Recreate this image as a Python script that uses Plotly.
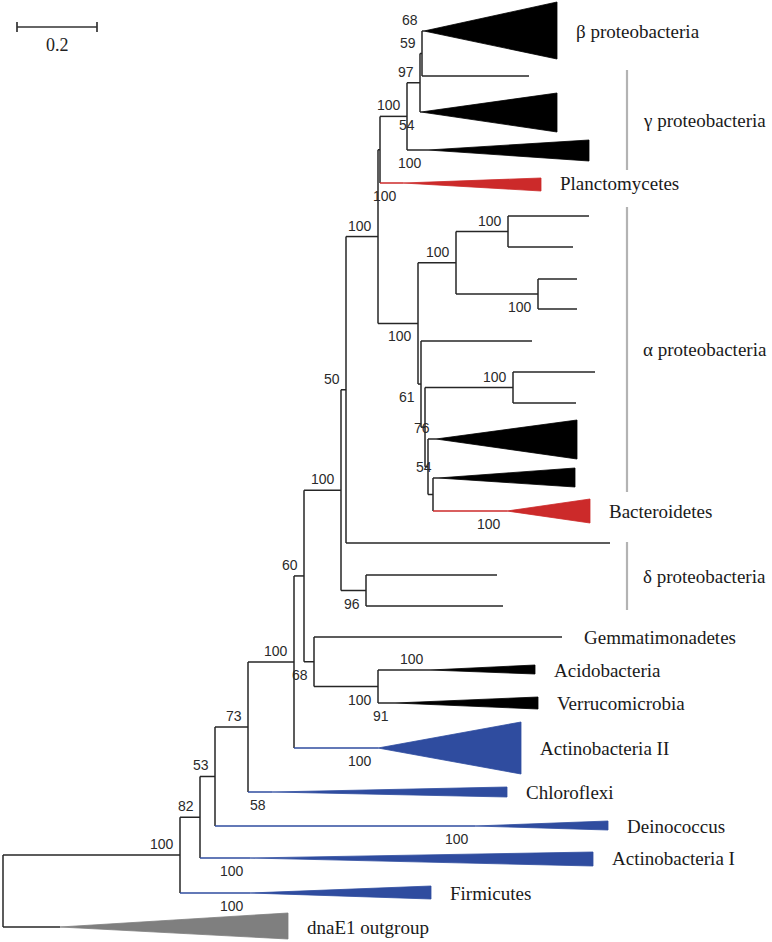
import plotly.graph_objects as go

# ---------------- data ----------------
# internal nodes: depth from root in substitutions/site
int_name = ["root", "n180", "n200", "n215", "n248", "n294", "n304", "n341", "n314", "n378",
            "n346", "n366", "n1", "n2", "a1", "g1", "n419", "b1", "n456", "a2",
            "n508", "n538", "a3", "n513", "a4", "a5"]
int_parent = [None, "root", "n180", "n200", "n215", "n248", "n294", "n304", "n304", "n314",
              "n341", "n341", "n346", "n1", "n1", "n2", "g1", "n419", "a1", "a1",
              "n456", "n456", "a2", "a3", "a3", "a4"]
int_depth = [0.0, 0.4425, 0.4925, 0.53, 0.6125, 0.7275, 0.7525, 0.845, 0.7775, 0.9375,
             0.8575, 0.9075, 0.9375, 0.9425, 1.0375, 1.01, 1.0425, 1.0475, 1.1325, 1.045,
             1.2625, 1.3375, 1.055, 1.275, 1.0625, 1.075]
int_support = [None, 100, 82, 53, 73, 100, 60, 100, 68, 100,
               50, 96, 100, None, 100, 100, 97, 59, 100, 61,
               100, 100, None, 100, None, None]
int_side = ["", "a", "a", "a", "a", "a", "a", "a", "b", "b",
            "a", "b", "a", "", "b", "a", "a", "a", "a", "b",
            "a", "b", "", "a", "", ""]

# single terminal taxa
leaf_name = ["gemma", "delta1", "delta2", "longleaf", "gammaleaf", "al1", "al2", "al3",
             "al4", "al5", "al6", "al7"]
leaf_parent = ["n314", "n366", "n366", "n346", "b1", "n508", "n508", "n538",
               "n538", "a2", "n513", "n513"]
leaf_depth = [1.3975, 1.235, 1.25, 1.5175, 1.315, 1.465, 1.425, 1.435,
              1.435, 1.3225, 1.48, 1.4325]
leaf_row = [637, 575, 606, 543, 76, 216, 247, 279, 309, 341, 372, 403]
leaf_label = ["Gemmatimonadetes", "", "", "", "", "", "", "", "", "", "", ""]

# collapsed clades (triangles)
clade_name = ["outgroup", "firmicutes", "actino1", "deino", "chloro", "actino2", "acido",
              "verruco", "plancto", "gamma2", "gamma1", "beta", "alpha1", "alpha2", "bactero"]
clade_parent = ["root", "n180", "n200", "n215", "n248", "n294", "n378",
                "n378", "n2", "g1", "n419", "b1", "a4", "a5", "a5"]
clade_apex = [0.1425, 0.6175, 0.6175, 1.18, 0.6725, 0.9375, 1.0675,
              0.98, 1.0, 1.0625, 1.045, 1.0525, 1.0825, 1.0875, 1.26]
clade_tip = [0.7125, 1.07, 1.475, 1.5125, 1.26, 1.295, 1.33,
             1.3375, 1.345, 1.465, 1.385, 1.385, 1.435, 1.43, 1.4675]
clade_row = [927, 893, 858, 826, 792, 748, 670, 703, 183, 150, 112, 31, 439, 478, 511]
clade_up = [14, 7, 6, 5, 5, 26, 5, 6, 5, 10, 19, 29, 19, 10, 12]
clade_down = [12, 6, 8, 4, 5, 26, 4, 6, 8, 11, 20, 28, 20, 9, 12]
clade_group = ["out", "blue", "blue", "blue", "blue", "blue", "black",
               "black", "red", "black", "black", "black", "black", "black", "red"]
clade_support = [None, 100, 100, 100, 58, 100, 100, 91, 100, 100, 54, 68, 76, 54, 100]
clade_side = ["", "b", "b", "b", "b", "b", "a", "b", "b", "b", "b", "a", "a", "a", "b"]
clade_label = ["dnaE1 outgroup", "Firmicutes", "Actinobacteria I", "Deinococcus", "Chloroflexi",
               "Actinobacteria II", "Acidobacteria", "Verrucomicrobia", "Planctomycetes",
               "", "", "β proteobacteria", "", "", "Bacteroidetes"]

# bracketed groups
group_label = ["γ proteobacteria", "α proteobacteria", "δ proteobacteria"]
group_top = [70, 207, 542]
group_bottom = [170, 492, 610]

scale_value = 0.2

# ---------------- styles ----------------
W, H = 772, 942
PX = 400.0            # pixels per substitution unit
X0 = -3 / PX
LINE = "#262626"
COL = {"black": "#000000", "blue": "#2f4c9f", "red": "#cc2a2a", "out": "#7f7f7f"}
STEM = {"black": LINE, "blue": "#2f4c9f", "red": "#cc2a2a", "out": LINE}
BAR_X = 1.56
SANS = "Liberation Sans, Arial, sans-serif"
SERIF = "Liberation Serif, Times New Roman, serif"

# ---------------- layout computation ----------------
depth = {}
parent = {}
ypos = {}
for n, p, d in zip(int_name, int_parent, int_depth):
    depth[n] = d
    parent[n] = p
for n, p, d, r in zip(leaf_name, leaf_parent, leaf_depth, leaf_row):
    depth[n] = d
    parent[n] = p
    ypos[n] = r
for n, p, d, r in zip(clade_name, clade_parent, clade_apex, clade_row):
    depth[n] = d
    parent[n] = p
    ypos[n] = r

children = {}
for n, p in parent.items():
    if p is not None:
        children.setdefault(p, []).append(n)


def get_y(n):
    if n in ypos:
        return ypos[n]
    ys = [get_y(c) for c in children[n]]
    ypos[n] = (min(ys) + max(ys)) / 2
    return ypos[n]


get_y("root")

fig = go.Figure()

# branch lines grouped by colour
seg = {}


def add_seg(color, xs, ys):
    sx, sy = seg.setdefault(color, ([], []))
    sx.extend(xs + [None])
    sy.extend(ys + [None])


stem_color = {n: LINE for n in parent}
for n, g in zip(clade_name, clade_group):
    stem_color[n] = STEM[g]

for n, p in parent.items():
    if p is None:
        continue
    add_seg(stem_color[n], [depth[p], depth[n]], [ypos[n], ypos[n]])
for n, ch in children.items():
    ys = [ypos[c] for c in ch]
    add_seg(LINE, [depth[n], depth[n]], [min(ys), max(ys)])

for color, (sx, sy) in seg.items():
    fig.add_trace(go.Scatter(x=sx, y=sy, mode="lines",
                             line=dict(color=color, width=1.5),
                             hoverinfo="skip", showlegend=False))

# triangles for collapsed clades
for n, a, t, r, u, dn, g in zip(clade_name, clade_apex, clade_tip, clade_row,
                                clade_up, clade_down, clade_group):
    fig.add_trace(go.Scatter(x=[a, t, t, a], y=[r, r - u, r + dn, r],
                             mode="lines", fill="toself", fillcolor=COL[g],
                             line=dict(color=COL[g], width=0.8),
                             hoverinfo="skip", showlegend=False))

# group bars
for top, bot in zip(group_top, group_bottom):
    fig.add_trace(go.Scatter(x=[BAR_X, BAR_X], y=[top, bot], mode="lines",
                             line=dict(color="#b3b3b3", width=2.2),
                             hoverinfo="skip", showlegend=False))

# scale bar
sb_x0 = 0.035
sb = [sb_x0, sb_x0 + scale_value]
fig.add_trace(go.Scatter(x=[sb[0], sb[1], None, sb[0], sb[0], None, sb[1], sb[1]],
                         y=[27, 27, None, 22, 32, None, 22, 32], mode="lines",
                         line=dict(color="#333333", width=1.7),
                         hoverinfo="skip", showlegend=False))

ann = []
ann.append(dict(x=(sb[0] + sb[1]) / 2, y=45, text=str(scale_value), xanchor="center",
                yanchor="middle", font=dict(family=SERIF, size=18, color="#222")))


def support_ann(n, s, side):
    if s is None or not side:
        return
    ann.append(dict(x=depth[n], y=ypos[n], text=str(s), xanchor="right", yanchor="middle",
                    xshift=-4, yshift=11 if side == "a" else -13,
                    font=dict(family=SANS, size=14, color="#2a2a2a")))


for n, s, side in zip(int_name, int_support, int_side):
    support_ann(n, s, side)
for n, s, side in zip(clade_name, clade_support, clade_side):
    support_ann(n, s, side)

for n, t, lab in zip(clade_name, clade_tip, clade_label):
    if lab:
        ann.append(dict(x=t, y=ypos[n], text=lab, xanchor="left", yanchor="middle", xshift=17,
                        font=dict(family=SERIF, size=19, color="#1a1a1a")))
for n, t, lab in zip(leaf_name, leaf_depth, leaf_label):
    if lab:
        ann.append(dict(x=t, y=ypos[n], text=lab, xanchor="left", yanchor="middle", xshift=20,
                        font=dict(family=SERIF, size=19, color="#1a1a1a")))
for lab, top, bot in zip(group_label, group_top, group_bottom):
    ann.append(dict(x=BAR_X, y=(top + bot) / 2, text=lab, xanchor="left", yanchor="middle",
                    xshift=14, font=dict(family=SERIF, size=19, color="#1a1a1a")))

for a in ann:
    a.update(showarrow=False, xref="x", yref="y")

fig.update_layout(
    width=W, height=H,
    margin=dict(l=0, r=0, t=0, b=0),
    paper_bgcolor="white", plot_bgcolor="white",
    xaxis=dict(range=[X0, X0 + W / PX], visible=False, fixedrange=True),
    yaxis=dict(range=[H, 0], visible=False, fixedrange=True),
    annotations=ann,
    showlegend=False,
)

fig.write_html("out.html", config={"displayModeBar": False},
               post_script="document.body.style.margin='0px';"
                           "document.body.style.overflow='hidden';")
